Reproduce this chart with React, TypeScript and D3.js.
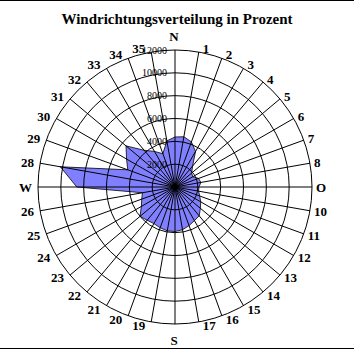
import React, { useEffect, useRef } from 'react';
import * as d3 from 'd3';

const title = 'Windrichtungsverteilung in Prozent';

const directions = [
  'N', '1', '2', '3', '4', '5', '6', '7', '8',
  'O', '10', '11', '12', '13', '14', '15', '16', '17',
  'S', '19', '20', '21', '22', '23', '24', '25', '26',
  'W', '28', '29', '30', '31', '32', '33', '34', '35',
];

const values = [
  4380, 4470, 4200, 3600, 2400, 1900, 1800, 2200, 2300,
  2100, 2100, 2300, 2600, 2900, 3300, 3400, 3600, 3800,
  3900, 3900, 3800, 3700, 3800, 4000, 3400, 3100, 2900,
  8600, 10200, 4400, 4900, 5600, 4200, 3600, 3100, 4100,
];

const ringTicks = [2000, 4000, 6000, 8000, 10000, 12000];

export default function App() {
  const ref = useRef<SVGSVGElement>(null);

  useEffect(() => {
    const w = 354;
    const h = 351;
    const cx = 175;
    const cy = 187;
    const R = 137;

    const svg = d3.select(ref.current);
    svg.selectAll('*').remove();

    svg.append('rect').attr('width', w).attr('height', h).attr('fill', '#fff');
    svg.append('line').attr('x1', 0).attr('x2', w).attr('y1', 0.5).attr('y2', 0.5)
      .attr('stroke', '#000');
    svg.append('line').attr('x1', 0).attr('x2', w).attr('y1', 348.5).attr('y2', 348.5)
      .attr('stroke', '#000');

    const r = d3.scaleLinear().domain([0, 12000]).range([0, R]);
    const angle = d3.scaleLinear().domain([0, directions.length]).range([0, 2 * Math.PI]);

    const g = svg.append('g').attr('transform', `translate(${cx},${cy})`);

    const rose = d3.lineRadial<number>()
      .angle((d, i) => angle(i))
      .radius(d => r(d))
      .curve(d3.curveLinearClosed);

    g.append('path')
      .attr('d', rose(values))
      .attr('fill', '#8080ff')
      .attr('stroke', 'none');

    // grid
    g.selectAll('circle.ring')
      .data(ringTicks)
      .enter().append('circle')
      .attr('class', 'ring')
      .attr('r', d => r(d))
      .attr('fill', 'none')
      .attr('stroke', '#000');

    g.selectAll('line.spoke')
      .data(directions)
      .enter().append('line')
      .attr('class', 'spoke')
      .attr('x1', 0).attr('y1', 0)
      .attr('x2', (d, i) => R * Math.sin(angle(i)))
      .attr('y2', (d, i) => -R * Math.cos(angle(i)))
      .attr('stroke', '#000');

    g.append('path')
      .attr('d', rose(values))
      .attr('fill', 'none')
      .attr('stroke', '#000')
      .attr('stroke-width', 0.8);

    // ring labels
    g.selectAll('text.tick')
      .data(ringTicks)
      .enter().append('text')
      .attr('class', 'tick')
      .attr('x', -8)
      .attr('y', d => -r(d))
      .attr('dy', '0.35em')
      .attr('text-anchor', 'end')
      .style('font-family', '"Liberation Serif", serif')
      .style('font-size', '10px')
      .text(d => d);

    // direction labels
    g.selectAll('text.dir')
      .data(directions)
      .enter().append('text')
      .attr('class', 'dir')
      .each(function (d, i) {
        const a = angle(i);
        const s = Math.sin(a);
        const c = Math.cos(a);
        let x = R * s;
        let y = -R * c;
        let anchor = 'middle';
        if (s > 0.01) { x += 4; anchor = 'start'; }
        else if (s < -0.01) { x -= 6; anchor = 'end'; }
        y -= c * 4;
        if (d === 'N') y = -R - 14;
        if (d === 'S') y = R + 16;
        d3.select(this)
          .attr('x', Math.abs(s) < 0.01 ? -1 : x)
          .attr('y', y)
          .attr('dy', '0.35em')
          .attr('text-anchor', anchor);
      })
      .style('font-family', '"Liberation Serif", serif')
      .style('font-weight', 'bold')
      .style('font-size', '13px')
      .text(d => d);

    svg.append('text')
      .attr('x', 177)
      .attr('y', 24)
      .attr('text-anchor', 'middle')
      .style('font-family', '"Liberation Serif", serif')
      .style('font-weight', 'bold')
      .style('font-size', '15px')
      .text(title);
  }, []);

  return (
    <svg
      ref={ref}
      width={354}
      height={351}
      style={{ position: 'absolute', left: 0, top: 0 }}
    />
  );
}
